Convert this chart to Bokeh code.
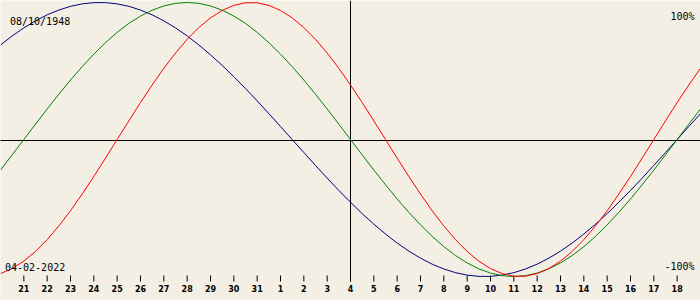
from bokeh.plotting import figure
from bokeh.models import Range1d, Label, LabelSet, ColumnDataSource
from bokeh.core.properties import value
from bokeh.embed import file_html
from bokeh.resources import INLINE

# ---- data (values in %, every half day; 0 = 04-02-2022) ----
days = [i / 2 for i in range(-30, 31)]
physical = [-97.9, -94.2, -88.8, -81.7, -73.1, -63.1, -52.0, -39.8, -27.0, -13.6,
            0.0, 13.6, 27.0, 39.8, 52.0, 63.1, 73.1, 81.7, 88.8, 94.2, 97.9, 99.8,
            99.8, 97.9, 94.2, 88.8, 81.7, 73.1, 63.1, 52.0, 39.8, 27.0, 13.6, 0.0,
            -13.6, -27.0, -39.8, -52.0, -63.1, -73.1, -81.7, -88.8, -94.2, -97.9, -99.8,
            -99.8, -97.9, -94.2, -88.8, -81.7, -73.1, -63.1, -52.0, -39.8, -27.0, -13.6,
            0.0, 13.6, 27.0, 39.8, 52.0]
emotional = [-22.3, -11.2,
             0.0, 11.2, 22.3, 33.0, 43.4, 53.2, 62.3, 70.7, 78.2, 84.7, 90.1, 94.4, 97.5, 99.4,
             100.0, 99.4, 97.5, 94.4, 90.1, 84.7, 78.2, 70.7, 62.3, 53.2, 43.4, 33.0, 22.3, 11.2,
             0.0, -11.2, -22.3, -33.0, -43.4, -53.2, -62.3, -70.7, -78.2, -84.7, -90.1, -94.4,
             -97.5, -99.4, -100.0, -99.4, -97.5, -94.4, -90.1, -84.7, -78.2, -70.7, -62.3, -53.2,
             -43.4, -33.0, -22.3, -11.2,
             0.0, 11.2, 22.3]
intellectual = [69.0, 75.6, 81.5, 86.6, 91.0, 94.5, 97.2, 99.0, 99.9,
                99.9, 99.0, 97.2, 94.5, 91.0, 86.6, 81.5, 75.6, 69.0, 61.8, 54.1, 45.8, 37.2,
                28.2, 18.9, 9.5, 0.0,
                -9.5, -18.9, -28.2, -37.2, -45.8, -54.1, -61.8, -69.0, -75.6, -81.5, -86.6,
                -91.0, -94.5, -97.2, -99.0, -99.9,
                -99.9, -99.0, -97.2, -94.5, -91.0, -86.6, -81.5, -75.6, -69.0, -61.8, -54.1,
                -45.8, -37.2, -28.2, -18.9, -9.5,
                0.0, 9.5, 18.9]
tick_days = list(range(-14, 15))
tick_labels = ["21", "22", "23", "24", "25", "26", "27", "28", "29", "30", "31",
               "1", "2", "3", "4", "5", "6", "7", "8", "9", "10", "11", "12",
               "13", "14", "15", "16", "17", "18"]
birth_label = "08/10/1948"
date_label = "04-02-2022"
top_label = "100%"
bottom_label = "-100%"

# ---- layout ----
W, H = 700, 300
A, C = 137.0, 139.0          # amplitude (px) and centre row of the curves
BG = "#f3efe4"


def ydata(py):
    return (C - py) * 100.0 / A


p = figure(width=W, height=H, output_backend="svg", toolbar_location=None,
           x_range=Range1d(-15, 15),
           y_range=Range1d(ydata(H), ydata(0)),
           x_axis_type=None, y_axis_type=None, min_border=0,
           background_fill_color=BG, border_fill_color=BG,
           outline_line_color=None)
p.xgrid.visible = False
p.ygrid.visible = False

# axes lines (horizontal one sits on row 140)
p.segment(x0=[days[0] - 1], y0=[ydata(140)], x1=[days[-1] + 1], y1=[ydata(140)],
          line_color="black", line_width=1)
p.segment(x0=[0], y0=[ydata(0)], x1=[0], y1=[ydata(281)], line_color="black", line_width=1)
# day ticks
p.segment(x0=tick_days, y0=[ydata(275)] * len(tick_days), x1=tick_days,
          y1=[ydata(281)] * len(tick_days), line_color="black", line_width=1)

# curves
p.line(days, intellectual, line_color="#000080", line_width=1)
p.line(days, emotional, line_color="#008000", line_width=1)
p.line(days, physical, line_color="#ff0000", line_width=1)

# tick labels
src = ColumnDataSource(dict(x=tick_days, t=tick_labels, y=[H - 291] * len(tick_days)))
p.add_layout(LabelSet(x="x", y="y", text="t", source=src, x_units="data", y_units="screen",
                      text_align="center", text_baseline="alphabetic",
                      text_font=value("DejaVu Sans"), text_font_size=value("8px"),
                      text_font_style=value("bold"), text_color="black"))

font = "DejaVu Sans Mono"
p.add_layout(Label(x=9.5, y=H - 21, x_units="screen", y_units="screen", text=birth_label,
                   text_font=font, text_font_size="10px", text_baseline="alphabetic",
                   text_align="left", text_color="black"))
p.add_layout(Label(x=4.5, y=H - 266, x_units="screen", y_units="screen", text=date_label,
                   text_font=font, text_font_size="10px", text_baseline="alphabetic",
                   text_align="left", text_color="black"))
p.add_layout(Label(x=694, y=H - 16, x_units="screen", y_units="screen", text=top_label,
                   text_font=font, text_font_size="10px", text_baseline="alphabetic",
                   text_align="right", text_color="black"))
p.add_layout(Label(x=694, y=H - 266, x_units="screen", y_units="screen", text=bottom_label,
                   text_font=font, text_font_size="10px", text_baseline="alphabetic",
                   text_align="right", text_color="black"))

open("out.html", "w").write(file_html(p, INLINE))
